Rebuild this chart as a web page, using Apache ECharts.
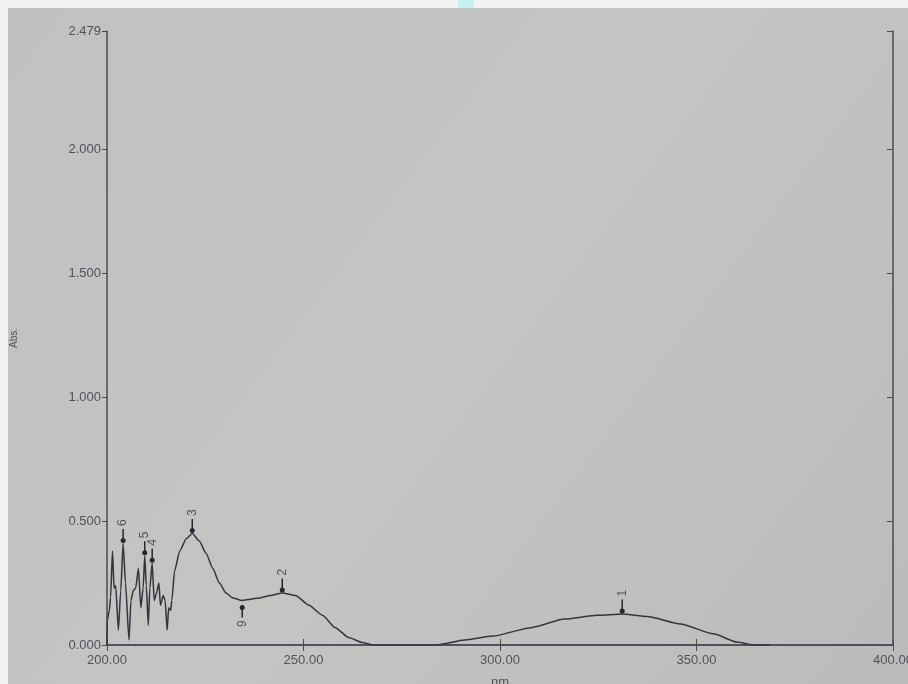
<!DOCTYPE html>
<html>
<head>
<meta charset="utf-8">
<script src="https://cdn.jsdelivr.net/npm/echarts@6/dist/echarts.min.js"></script>
<style>
html,body{margin:0;padding:0;background:#f2f2f2;}
#c{width:908px;height:684px;}
</style>
</head>
<body>
<div id="c"></div>
<script>
// Spectrum: [wavelength nm, absorbance]
const spectrum = [
[200.0,0.0],[200.05,0.10],[200.6,0.14],[200.9,0.19],[201.4,0.38],[201.8,0.23],[202.2,0.24],[202.9,0.06],
[203.5,0.22],[204.1,0.41],[204.7,0.25],[205.6,0.02],[206.1,0.18],[206.7,0.22],[207.3,0.23],[208.0,0.31],
[208.6,0.15],[209.2,0.23],[209.6,0.36],[210.0,0.24],[210.5,0.08],[210.9,0.23],[211.5,0.33],[212.0,0.18],
[212.6,0.21],[213.2,0.25],[213.6,0.16],[214.3,0.20],[214.8,0.18],[215.3,0.06],[215.7,0.15],[216.2,0.14],
[216.5,0.18],[217.2,0.30],[218.5,0.38],[220.2,0.43],[221.7,0.45],[223.5,0.42],[225.2,0.37],[226.9,0.31],
[228.6,0.25],[230.3,0.21],[232.0,0.19],[234.4,0.18],[236.5,0.185],[238.7,0.19],[241.5,0.20],[244.6,0.21],
[248.0,0.20],[251.4,0.16],[254.8,0.12],[258.1,0.07],[261.5,0.03],[264.9,0.01],[267.8,0.0],[275.0,0.0],
[283.9,0.0],[291.1,0.02],[298.2,0.036],[307.9,0.07],[316.4,0.105],[324.8,0.12],[331.1,0.125],[337.5,0.115],
[345.9,0.085],[354.3,0.045],[360.3,0.012],[364.5,0.0],[368.7,0.0]
];
const peakLabels = ['1','2','3','4','5','6'];
const peakX = [331.1,244.6,221.7,211.5,209.6,204.1];
const peakY = [0.125,0.21,0.45,0.33,0.36,0.41];
const valleyLabels = ['9'];
const valleyX = [234.4];
const valleyY = [0.18];
const yTickValues = [0,0.5,1.0,1.5,2.0,2.479];
const xMin = 200, xMax = 400, xStep = 50;
const yMax = 2.479;

const textColor = '#50535e';
const lineColor = '#4a4b55';
const markColor = '#25262e';

const peakPts = peakX.map((x,i)=>({value:[x,peakY[i]], name:peakLabels[i]}));
const valleyPts = valleyX.map((x,i)=>({value:[x,valleyY[i]], name:valleyLabels[i]}));

const chart = echarts.init(document.getElementById('c'), null, {renderer:'canvas'});
chart.setOption({
  backgroundColor: '#f2f2f2',
  animation: false,
  textStyle: {fontFamily: 'Liberation Sans, Arial, sans-serif'},
  graphic: [
    {type:'rect', z:-10, silent:true, shape:{x:8,y:8,width:900,height:676},
     style:{fill:new echarts.graphic.LinearGradient(0,0,1,1,[{offset:0,color:'#c1c1bf'},{offset:0.5,color:'#c4c4c2'},{offset:1,color:'#bbbbb9'}])}},
    {type:'rect', z:-9, silent:true, shape:{x:458,y:0,width:16,height:8}, style:{fill:'#c4f2f4'}}
  ],
  grid: {left:107, right:15, top:31, bottom:39, containLabel:false, outerBoundsMode:'none'},
  xAxis: [
    {type:'value', min:xMin, max:xMax, interval:xStep, position:'bottom',
     name:'nm', nameLocation:'middle', nameGap:31, nameTextStyle:{color:textColor, fontSize:13},
     axisLine:{lineStyle:{color:lineColor, width:1.5}},
     axisTick:{inside:true, length:6, lineStyle:{color:lineColor}},
     axisLabel:{color:textColor, fontSize:13, margin:9, formatter:v=>v.toFixed(2)},
     splitLine:{show:false}},
    {type:'value', min:xMin, max:xMax, interval:xStep, position:'top',
     axisLine:{show:true, lineStyle:{color:lineColor, width:1.5}},
     axisTick:{inside:true, length:6, lineStyle:{color:lineColor}},
     axisLabel:{show:false}, splitLine:{show:false}}
  ],
  yAxis: [
    {type:'value', min:0, max:yMax, position:'left',
     name:'Abs.', nameLocation:'middle', nameGap:88, nameRotate:90,
     nameTextStyle:{color:textColor, fontSize:10},
     axisLine:{show:true, lineStyle:{color:lineColor, width:1.5}},
     axisTick:{show:true, inside:false, length:5, customValues:yTickValues, lineStyle:{color:lineColor}},
     axisLabel:{color:textColor, fontSize:13, margin:6, customValues:yTickValues, formatter:v=>v.toFixed(3)},
     splitLine:{show:false}},
    {type:'value', min:0, max:yMax, position:'right',
     axisLine:{show:true, lineStyle:{color:lineColor, width:1.5}},
     axisTick:{show:true, inside:true, length:6, customValues:yTickValues, lineStyle:{color:lineColor}},
     axisLabel:{show:false}, splitLine:{show:false}}
  ],
  series: [
    {type:'line', data:spectrum, showSymbol:false, smooth:0.2, smoothMonotone:'x',
     lineStyle:{color:'#33343e', width:1.5}, z:2},
    // peak arrow stems
    {type:'scatter', data:peakPts, symbol:'rect', symbolSize:[1.5,11], symbolOffset:[0,-9],
     itemStyle:{color:markColor, opacity:1}, z:3,
     label:{show:true, formatter:p=>p.name, position:'top', distance:3, rotate:90,
            align:'left', verticalAlign:'middle', color:textColor, fontSize:12}},
    // peak dots
    {type:'scatter', data:peakPts, symbol:'circle', symbolSize:5, symbolOffset:[0,-3],
     itemStyle:{color:markColor, opacity:1}, z:4},
    // valley stems
    {type:'scatter', data:valleyPts, symbol:'rect', symbolSize:[1.5,10], symbolOffset:[0,12],
     itemStyle:{color:markColor, opacity:1}, z:3,
     label:{show:true, formatter:p=>p.name, position:'bottom', distance:3, rotate:90,
            align:'right', verticalAlign:'middle', color:textColor, fontSize:12}},
    // valley dots
    {type:'scatter', data:valleyPts, symbol:'circle', symbolSize:5, symbolOffset:[0,7],
     itemStyle:{color:markColor, opacity:1}, z:4}
  ]
});
</script>
</body>
</html>
